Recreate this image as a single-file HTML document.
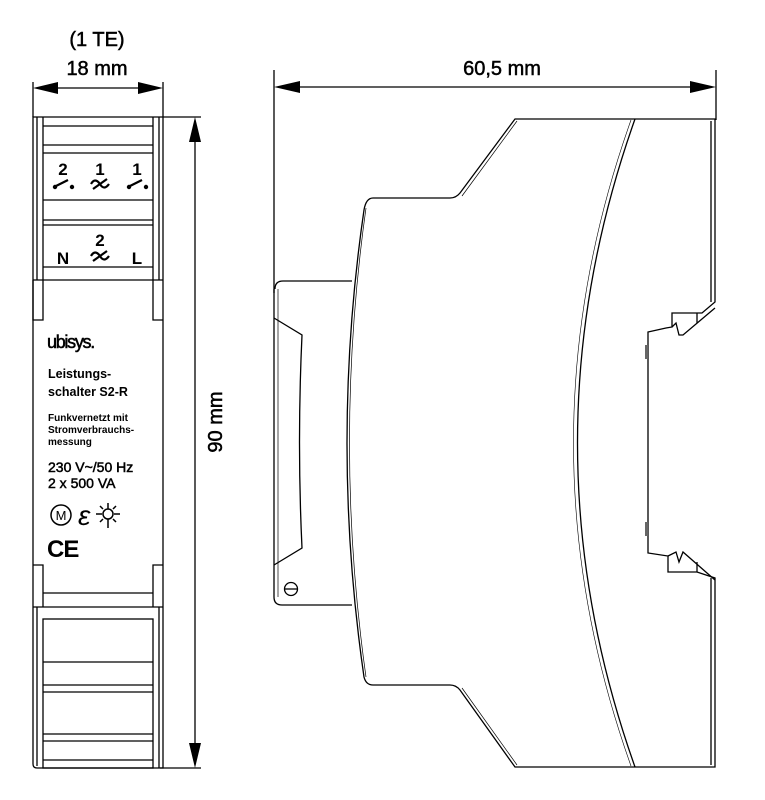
<!DOCTYPE html>
<html><head><meta charset="utf-8"><style>
html,body{margin:0;padding:0;background:#fff;}
svg{display:block;}
text{font-family:"Liberation Sans",sans-serif;fill:#000;}
.d{stroke:#000;stroke-width:0.5;}
</style></head><body>
<svg width="765" height="800" viewBox="0 0 765 800" xmlns="http://www.w3.org/2000/svg">
<g fill="none" stroke="#000" stroke-width="1.3">
<!-- LEFT VIEW -->
<line x1="33" y1="82" x2="33" y2="117"/>
<line x1="163" y1="82" x2="163" y2="117"/>
<line x1="45" y1="88" x2="151" y2="88"/>
<line x1="163" y1="117" x2="201" y2="117"/>
<line x1="160" y1="768" x2="201" y2="768"/>
<line x1="195" y1="130" x2="195" y2="755"/>
<path d="M33 117 V764 Q33 768 37 768 H163 V117 Z"/>
<line x1="37" y1="117" x2="37" y2="280"/>
<line x1="43" y1="117" x2="43" y2="280"/>
<line x1="153" y1="117" x2="153" y2="280"/>
<line x1="159" y1="117" x2="159" y2="280"/>
<line x1="43" y1="126" x2="153" y2="126"/>
<line x1="43" y1="145" x2="153" y2="145"/>
<line x1="43" y1="153" x2="153" y2="153"/>
<line x1="43" y1="200" x2="153" y2="200"/>
<line x1="43" y1="220" x2="153" y2="220"/>
<line x1="43" y1="225" x2="153" y2="225"/>
<line x1="43" y1="267" x2="153" y2="267"/>
<line x1="33" y1="280" x2="163" y2="280"/>
<path d="M33 280 V320 H43 V280"/>
<path d="M153 280 V320 H163"/>
<path d="M33 565 H43 V607"/>
<path d="M163 565 H153 V607"/>
<line x1="43" y1="593" x2="153" y2="593"/>
<line x1="33" y1="607" x2="163" y2="607"/>
<rect x="43" y="619" width="110" height="149"/>
<line x1="43" y1="662" x2="153" y2="662"/>
<line x1="43" y1="685" x2="153" y2="685"/>
<line x1="43" y1="692" x2="153" y2="692"/>
<line x1="43" y1="734" x2="153" y2="734"/>
<line x1="43" y1="741" x2="153" y2="741"/>
<line x1="43" y1="760" x2="153" y2="760"/>
<line x1="159" y1="607" x2="159" y2="768"/>
<line x1="37" y1="607" x2="37" y2="766"/>
</g>
<g fill="#000">
<polygon points="33,88 58,82 58,94"/>
<polygon points="163,88 138,82 138,94"/>
<polygon points="195,117 189,142 201,142"/>
<polygon points="195,768 189,743 201,743"/>
</g>
<text class="d" x="97" y="46" font-size="20" text-anchor="middle">(1 TE)</text>
<text class="d" x="97" y="75" font-size="20" text-anchor="middle">18 mm</text>
<text class="d" x="0" y="0" font-size="20" text-anchor="middle" transform="translate(222,422) rotate(-90)">90 mm</text>
<g font-weight="bold" font-size="17" text-anchor="middle">
<text x="63" y="175">2</text><text x="100" y="175">1</text><text x="137" y="175">1</text>
<text x="100" y="246">2</text>
<text x="63" y="264">N</text><text x="137" y="264">L</text>
</g>
<g stroke="#000" stroke-width="2.2" fill="none">
<path d="M54 187 L68 180"/><path d="M128 187 L142 180"/>
<path d="M91 184 q4 -7 9 0 q4 7 9 0"/><path d="M93 189 L107 179"/>
<path d="M91 256 q4 -7 9 0 q4 7 9 0"/><path d="M93 261 L107 251"/>
</g>
<g fill="#000"><circle cx="55" cy="187" r="2.2"/><circle cx="72" cy="187" r="2.2"/><circle cx="129" cy="187" r="2.2"/><circle cx="146" cy="187" r="2.2"/></g>
<text class="d" x="47" y="348" font-size="18" letter-spacing="-1.3">ubisys.</text>
<g font-weight="bold" font-size="12.5">
<text x="48" y="378">Leistungs-</text>
<text x="48" y="396">schalter S2-R</text>
</g>
<g font-weight="bold" font-size="10">
<text x="48" y="421">Funkvernetzt mit</text>
<text x="48" y="433">Stromverbrauchs-</text>
<text x="48" y="445">messung</text>
</g>
<text class="d" x="48" y="472" font-size="14">230 V~/50 Hz</text>
<text class="d" x="48" y="488" font-size="14">2 x 500 VA</text>
<circle cx="61" cy="515" r="10" fill="none" stroke="#000" stroke-width="1.5"/>
<text x="61" y="520" font-size="13" text-anchor="middle">M</text>
<text x="78" y="525" font-size="28" font-style="italic" font-family="Liberation Serif">ε</text>
<g stroke="#000" stroke-width="1.5" fill="none">
<circle cx="108" cy="514" r="5"/>
<path d="M96 514h6M114 514h6M108 503v6M108 519v9M100 506l3 3M116 506l-3 3M100 522l3-3M116 522l-3-3"/>
</g>
<text x="47" y="557" font-size="24" font-weight="bold" letter-spacing="-1">CE</text>

<!-- RIGHT VIEW -->
<g fill="none" stroke="#000" stroke-width="1.3">
<line x1="274" y1="70" x2="274" y2="293"/>
<line x1="716" y1="70" x2="716" y2="120"/>
<line x1="290" y1="87" x2="700" y2="87"/>
<path d="M515 119 H715 V302 L702 313 H672 V327 L666 328 L648 332 V553 L668 556 V572 H697 L715 578 V767 H515 L460 690 Q456 685 450 685 H373 Q366 685 364 677 Q330 443 364 210 Q366 198 373 198 H450 Q456 198 460 193 Z"/>
<path d="M517 121 L462 196" stroke-width="0.7"/>
<path d="M517 765 L462 688" stroke-width="0.7"/>
<line x1="711" y1="121" x2="711" y2="302"/>
<line x1="711" y1="578" x2="711" y2="765"/>
<path d="M635 119 Q520 443 635 767"/>
<path d="M631 120 Q516 443 631 766" stroke-width="0.6"/>
<path d="M366 208 Q333 443 366 677" stroke-width="0.7"/>
<path d="M275 289 Q275 281 283 281 H352 M274 289 V597 Q274 605 282 605 H352"/>
<path d="M278 289 V597" stroke-width="0.7"/>
<path d="M274 318 L302 335 Q297 443 302 548 L274 565"/>
<circle cx="291" cy="589" r="6.5"/>
<line x1="285" y1="589" x2="297" y2="589"/>
<path d="M672 327 L676 323 L679 335 L683 335 L715 308"/>
<line x1="697" y1="313" x2="697" y2="323"/>
<path d="M668 556 L676 552 L679 562 L683 552 L715 580"/>
<line x1="697" y1="562" x2="697" y2="572"/>
</g>
<g fill="#666"><rect x="645" y="345" width="3" height="14"/><rect x="645" y="522" width="3" height="14"/></g>
<g fill="#000">
<polygon points="274,87 300,81 300,93"/>
<polygon points="716,87 690,81 690,93"/>
</g>
<text class="d" x="502" y="75" font-size="20" text-anchor="middle">60,5 mm</text>
</svg>
</body></html>
